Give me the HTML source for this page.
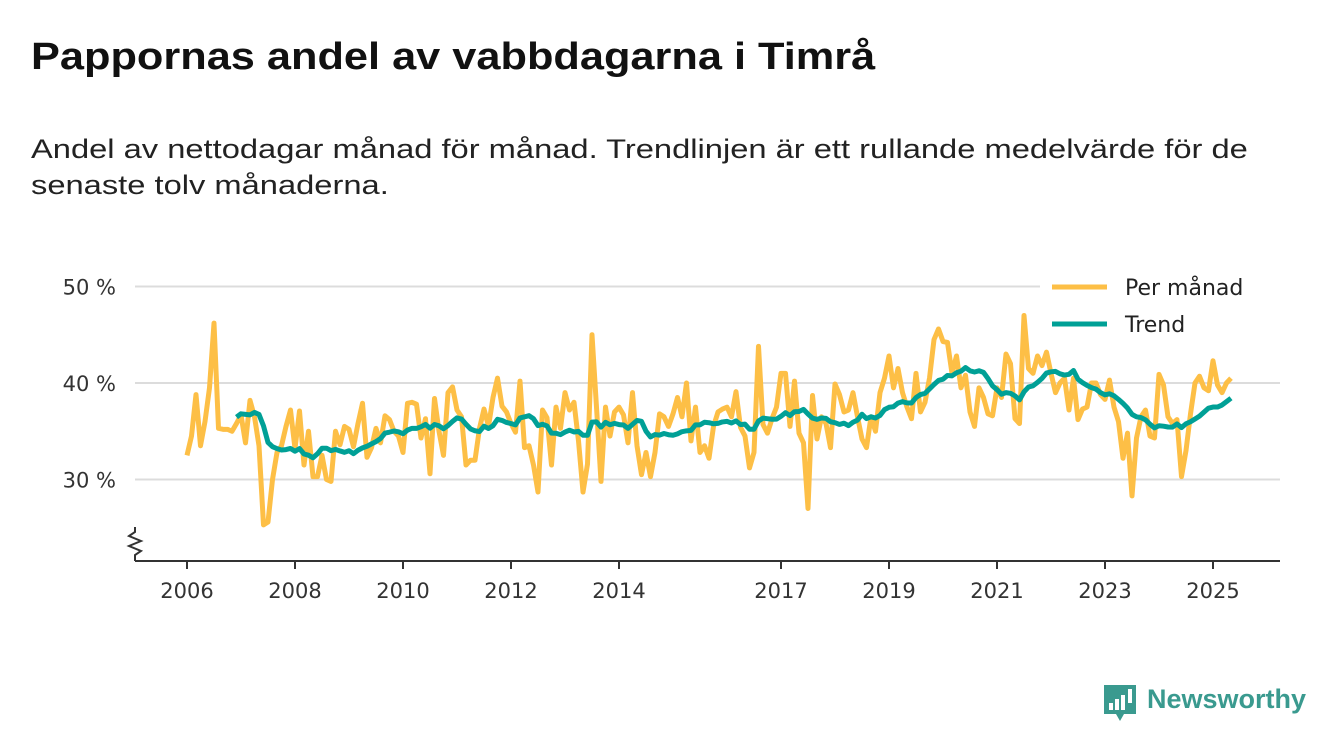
<!DOCTYPE html>
<html><head><meta charset="utf-8"><style>
body{margin:0;background:#fff;font-family:"Liberation Sans","DejaVu Sans",sans-serif;}
#wrap{position:relative;width:1340px;height:753px;overflow:hidden;}
h1{position:absolute;left:31px;top:36px;margin:0;font-size:38px;font-weight:bold;color:#111;white-space:nowrap;transform:scaleX(1.14);transform-origin:left top;}
.sub{position:absolute;left:31px;top:131px;font-size:27px;line-height:36px;color:#222;white-space:nowrap;transform:scaleX(1.21);transform-origin:left top;}
svg{position:absolute;left:0;top:0;}
</style></head><body>
<div id="wrap">
<h1>Pappornas andel av vabbdagarna i Timrå</h1>
<div class="sub">Andel av nettodagar månad för månad. Trendlinjen är ett rullande medelvärde för de<br>senaste tolv månaderna.</div>
<svg id="chart" width="1340" height="753"></svg>
</div>
<script>
const years = [2006,2008,2010,2012,2014,2017,2019,2021,2023,2025];
const yTicks = [30,40,50];
const seriesNames = ["Per månad","Trend"];
const monthly = [
32.5,34.5,38.8,33.5,36,39.5,46.2,35.3,35.2,35.2,35,35.8,
36.7,33.8,38.2,36.5,33.5,25.3,25.6,30,32.8,33.5,35.5,37.2,
33.2,37.1,31.5,35,30.3,30.3,32.5,30,29.8,35,33.6,35.5,
35.2,33.4,35.8,37.9,32.3,33.3,35.3,33.8,36.6,36.2,35,34.5,32.8,37.9,
38,37.8,34.3,36.3,30.6,38.4,35,32.5,39,39.6,37.2,36.5,
31.5,32,32,35.3,37.3,35.5,38.5,40.5,37.6,37,35.8,34.9,40.2,
33.3,33.5,31.5,28.7,37.2,36.4,31.5,37.5,35.3,39,37.2,38,
34,28.7,31.6,45,37.5,29.8,37.5,34.5,37,37.5,36.7,33.8,
39,33.5,30.5,32.8,30.3,32.8,36.8,36.5,35.5,36.8,38.5,36.5,
40,34,37.5,32.8,33.5,32.2,35.5,37,37.3,37.5,36.5,39.1,
35.4,34.5,31.2,32.8,43.8,35.7,34.8,36.3,37.5,41,41,35.5,
40.2,34.8,33.8,27,38.7,34.2,36.5,35.8,33.3,39.9,38.8,37,
37.2,39,36.5,34.2,33.3,36.5,35,39,40.5,42.8,39.5,
41.5,39,37.5,36.3,41,37,38,40.5,
44.5,45.6,44.3,44.2,41,42.8,39.5,40.8,37,35.5,39.5,38.5,
36.8,36.6,39.5,38.5,43,42,36.3,35.8,47,41.5,41,42.8,
41.8,43.2,41,39,40,40.5,37.2,40.5,36.2,37.3,37.5,40,40,38.8,38.3,
40.3,37.5,36,32.2,34.8,28.3,34.3,36.5,37.2,34.5,34.3,40.9,
39.8,36.5,35.8,36.2,30.3,33,36.8,40,40.7,39.5,39.2,
42.3,39.8,39,40,40.5
];
const startYear = 2006;

const svg = document.getElementById('chart');
const NS = 'http://www.w3.org/2000/svg';
const x = t => 187 + (t - 2006) * 54;
const xm = i => x(startYear + i / 12);
const y = v => 383 - (v - 40) * 9.65;
function mk(tag, attrs, parent){const e=document.createElementNS(NS,tag);for(const k in attrs)e.setAttribute(k,attrs[k]);(parent||svg).appendChild(e);return e;}
const FONT='"DejaVu Sans","Liberation Sans",sans-serif';

yTicks.forEach(v=>{
  const g=mk('line',{x1:135,x2:1280,y1:y(v),y2:y(v),stroke:'#dcdcdc','stroke-width':2});
  
  
  const t=mk('text',{x:116,y:y(v)+8,'text-anchor':'end','font-size':21,fill:'#333','font-family':FONT});
  t.textContent=v+' %';
  
  
});
const ax=mk('line',{x1:135,x2:1280,y1:561,y2:561,stroke:'#333','stroke-width':2});


const br=mk('polyline',{points:'135,527 135,532 129,536 141,541 129,546 141,551 135,555 135,561',fill:'none',stroke:'#333','stroke-width':2});


years.forEach(yr=>{
  const tk=mk('line',{x1:x(yr),x2:x(yr),y1:561,y2:569,stroke:'#333','stroke-width':2});
  
  
  const t=mk('text',{x:x(yr),y:598,'text-anchor':'middle','font-size':21,fill:'#333','font-family':FONT});
  t.textContent=yr;
  
  
});
const mp=mk('polyline',{points:monthly.map((v,i)=>xm(i)+','+y(v)).join(' '),fill:'none',stroke:'#fdbf46','stroke-width':5,'stroke-linejoin':'round'});


const trendPts=[];
for(let i=11;i<monthly.length;i++){let s=0;for(let j=i-11;j<=i;j++)s+=monthly[j];trendPts.push(xm(i)+','+y(s/12));}
const tp=mk('polyline',{points:trendPts.join(' '),fill:'none',stroke:'#00a096','stroke-width':5,'stroke-linejoin':'round'});


const lcol=['#fdbf46','#00a096'];
seriesNames.forEach((n,i)=>{
  const yy=287+i*37;
  const bg=mk('rect',{x:1040,y:yy-16,width:240,height:32,fill:'#fff'});
  
  
  const l=mk('line',{x1:1052,x2:1107,y1:yy,y2:yy,stroke:lcol[i],'stroke-width':5});
  
  
  const t=mk('text',{x:1125,y:yy+8,'font-size':22,fill:'#222','font-family':FONT});
  t.textContent=n;
  
  
});
const lg=mk('g',{});


mk('path',{d:'M1104,685 h32 v29 h-12 l-4,7 l-4,-7 h-12 z',fill:'#3a9a8f'},lg);
[[1109,703,4,7],[1115,699,4,11],[1121,695,4,15],[1128,689,4,14]].forEach(r=>mk('rect',{x:r[0],y:r[1],width:r[2],height:r[3],fill:'#fff'},lg));
const lt=mk('text',{x:1147,y:708,'font-size':27,'font-weight':'bold',fill:'#3a9a8f'},lg);
lt.textContent='Newsworthy';


</script>
</body></html>
